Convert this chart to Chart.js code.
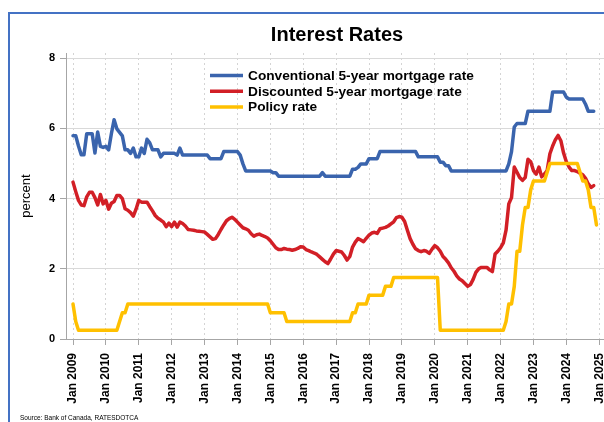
<!DOCTYPE html>
<html>
<head>
<meta charset="utf-8">
<title>Interest Rates</title>
<script src="https://cdn.jsdelivr.net/npm/chart.js@4.4.1/dist/chart.umd.min.js"></script>
<style>
    html, body { margin: 0; padding: 0; background: #fff; }
    #wrap { position: relative; width: 604px; height: 422px; overflow: hidden; }
    #frame {
        position: absolute; left: 8px; top: 12px; width: 700px; height: 500px;
        border-left: 2px solid #4472c4; border-top: 2px solid #4472c4;
    }
    canvas { position: absolute; left: 0; top: 0; }
</style>
</head>
<body>
<div id="wrap">
    <div id="frame"></div>
    <canvas id="rates" width="604" height="422" style="width:604px;height:422px"></canvas>
</div>
<script>
// Monthly series, first value = Jan 2009
const startYear = 2009;

const seriesNames = [
    'Conventional 5-year mortgage rate',
    'Discounted 5-year mortgage rate',
    'Policy rate'
];

// Jan 2009 .. Nov 2024
const conventional = [
    5.79, 5.79, 5.50, 5.25, 5.25, 5.85, 5.85, 5.85, 5.30, 5.90, 5.49, 5.46, // 2009
    5.49, 5.39, 5.85, 6.25, 5.99, 5.89, 5.79, 5.39, 5.39, 5.29, 5.44, 5.19, // 2010
    5.19, 5.44, 5.29, 5.69, 5.59, 5.39, 5.39, 5.39, 5.19, 5.29, 5.29, 5.29, // 2011
    5.29, 5.29, 5.24, 5.44, 5.24, 5.24, 5.24, 5.24, 5.24, 5.24, 5.24, 5.24, // 2012
    5.24, 5.24, 5.14, 5.14, 5.14, 5.14, 5.14, 5.34, 5.34, 5.34, 5.34, 5.34, // 2013
    5.34, 5.24, 4.99, 4.79, 4.79, 4.79, 4.79, 4.79, 4.79, 4.79, 4.79, 4.79, // 2014
    4.79, 4.74, 4.74, 4.64, 4.64, 4.64, 4.64, 4.64, 4.64, 4.64, 4.64, 4.64, // 2015
    4.64, 4.64, 4.64, 4.64, 4.64, 4.64, 4.64, 4.74, 4.64, 4.64, 4.64, 4.64, // 2016
    4.64, 4.64, 4.64, 4.64, 4.64, 4.64, 4.84, 4.84, 4.89, 4.99, 4.99, 4.99, // 2017
    5.14, 5.14, 5.14, 5.14, 5.34, 5.34, 5.34, 5.34, 5.34, 5.34, 5.34, 5.34, // 2018
    5.34, 5.34, 5.34, 5.34, 5.34, 5.34, 5.19, 5.19, 5.19, 5.19, 5.19, 5.19, // 2019
    5.19, 5.19, 5.04, 5.04, 4.94, 4.94, 4.79, 4.79, 4.79, 4.79, 4.79, 4.79, // 2020
    4.79, 4.79, 4.79, 4.79, 4.79, 4.79, 4.79, 4.79, 4.79, 4.79, 4.79, 4.79, // 2021
    4.79, 4.79, 4.79, 4.99, 5.34, 6.04, 6.14, 6.14, 6.14, 6.14, 6.49, 6.49, // 2022
    6.49, 6.49, 6.49, 6.49, 6.49, 6.49, 6.49, 7.04, 7.04, 7.04, 7.04, 7.04, // 2023
    6.89, 6.84, 6.84, 6.84, 6.84, 6.84, 6.84, 6.69, 6.49, 6.49, 6.49        // 2024
];

// Jan 2009 .. Nov 2024
const discounted = [
    4.47, 4.20, 3.95, 3.82, 3.80, 4.05, 4.18, 4.18, 4.03, 3.82, 4.12, 3.85, // 2009
    3.95, 3.70, 3.87, 3.92, 4.09, 4.09, 4.00, 3.71, 3.67, 3.60, 3.50, 3.70, // 2010
    3.95, 3.90, 3.90, 3.90, 3.77, 3.65, 3.52, 3.44, 3.39, 3.33, 3.20, 3.30, // 2011
    3.20, 3.33, 3.19, 3.33, 3.29, 3.22, 3.12, 3.11, 3.10, 3.08, 3.07, 3.06, // 2012
    3.05, 2.98, 2.91, 2.84, 2.86, 2.98, 3.12, 3.25, 3.37, 3.43, 3.47, 3.41, // 2013
    3.33, 3.25, 3.17, 3.14, 3.10, 3.00, 2.93, 2.97, 2.99, 2.95, 2.92, 2.88, // 2014
    2.80, 2.70, 2.60, 2.55, 2.55, 2.58, 2.56, 2.55, 2.53, 2.55, 2.58, 2.63, // 2015
    2.62, 2.55, 2.52, 2.48, 2.45, 2.41, 2.34, 2.27, 2.20, 2.15, 2.28, 2.42, // 2016
    2.52, 2.50, 2.48, 2.38, 2.25, 2.35, 2.62, 2.76, 2.86, 2.82, 2.77, 2.87, // 2017
    2.96, 3.02, 3.04, 3.01, 3.14, 3.16, 3.18, 3.22, 3.28, 3.34, 3.46, 3.49, // 2018
    3.47, 3.35, 3.10, 2.86, 2.70, 2.57, 2.52, 2.49, 2.52, 2.50, 2.44, 2.56, // 2019
    2.66, 2.60, 2.50, 2.35, 2.27, 2.17, 2.03, 1.93, 1.80, 1.71, 1.66, 1.58, // 2020
    1.50, 1.55, 1.70, 1.90, 2.00, 2.04, 2.04, 2.04, 1.97, 1.92, 2.42, 2.50, // 2021
    2.60, 2.74, 3.10, 3.85, 4.03, 4.90, 4.75, 4.60, 4.52, 4.60, 5.12, 5.05, // 2022
    4.80, 4.70, 4.90, 4.62, 4.70, 4.80, 5.28, 5.50, 5.68, 5.80, 5.65, 5.30, // 2023
    5.05, 4.90, 4.80, 4.80, 4.77, 4.72, 4.68, 4.58, 4.42, 4.32, 4.37        // 2024
];

// Jan 2009 .. Dec 2024
const policy = [
    1.00, 0.50, 0.25, 0.25, 0.25, 0.25, 0.25, 0.25, 0.25, 0.25, 0.25, 0.25, // 2009
    0.25, 0.25, 0.25, 0.25, 0.25, 0.50, 0.75, 0.75, 1.00, 1.00, 1.00, 1.00, // 2010
    1.00, 1.00, 1.00, 1.00, 1.00, 1.00, 1.00, 1.00, 1.00, 1.00, 1.00, 1.00, // 2011
    1.00, 1.00, 1.00, 1.00, 1.00, 1.00, 1.00, 1.00, 1.00, 1.00, 1.00, 1.00, // 2012
    1.00, 1.00, 1.00, 1.00, 1.00, 1.00, 1.00, 1.00, 1.00, 1.00, 1.00, 1.00, // 2013
    1.00, 1.00, 1.00, 1.00, 1.00, 1.00, 1.00, 1.00, 1.00, 1.00, 1.00, 1.00, // 2014
    0.75, 0.75, 0.75, 0.75, 0.75, 0.75, 0.50, 0.50, 0.50, 0.50, 0.50, 0.50, // 2015
    0.50, 0.50, 0.50, 0.50, 0.50, 0.50, 0.50, 0.50, 0.50, 0.50, 0.50, 0.50, // 2016
    0.50, 0.50, 0.50, 0.50, 0.50, 0.50, 0.75, 0.75, 1.00, 1.00, 1.00, 1.00, // 2017
    1.25, 1.25, 1.25, 1.25, 1.25, 1.25, 1.50, 1.50, 1.50, 1.75, 1.75, 1.75, // 2018
    1.75, 1.75, 1.75, 1.75, 1.75, 1.75, 1.75, 1.75, 1.75, 1.75, 1.75, 1.75, // 2019
    1.75, 1.75, 0.25, 0.25, 0.25, 0.25, 0.25, 0.25, 0.25, 0.25, 0.25, 0.25, // 2020
    0.25, 0.25, 0.25, 0.25, 0.25, 0.25, 0.25, 0.25, 0.25, 0.25, 0.25, 0.25, // 2021
    0.25, 0.25, 0.50, 1.00, 1.00, 1.50, 2.50, 2.50, 3.25, 3.75, 3.75, 4.25, // 2022
    4.50, 4.50, 4.50, 4.50, 4.50, 4.75, 5.00, 5.00, 5.00, 5.00, 5.00, 5.00, // 2023
    5.00, 5.00, 5.00, 5.00, 5.00, 4.75, 4.50, 4.50, 4.25, 3.75, 3.75, 3.25  // 2024
];

const yearTicks = [2009, 2010, 2011, 2012, 2013, 2014, 2015, 2016, 2017,
                   2018, 2019, 2020, 2021, 2022, 2023, 2024, 2025];
const valueTicks = [0, 2, 4, 6, 8];

const chartTitle = 'Interest Rates';
const axisTitle = 'percent';
const sourceText = 'Source: Bank of Canada, RATESDOTCA';

const FONT = '"Liberation Sans", Arial, sans-serif';
const colors = ['#3a64ad', '#d21f26', '#ffc000'];

// month index -> decimal year
function toPoints(values) {
    return values.map((v, i) => ({ x: startYear + i / 12, y: v }));
}

// title, legend and source note
const decorations = {
    id: 'decorations',
    afterDraw(chart) {
        const ctx = chart.ctx;
        ctx.save();
        ctx.fillStyle = '#000';

        ctx.font = 'bold 20px ' + FONT;
        ctx.textAlign = 'center';
        ctx.textBaseline = 'alphabetic';
        ctx.fillText(chartTitle, 337, 41);

        ctx.font = 'bold 13.7px ' + FONT;
        ctx.textAlign = 'left';
        ctx.textBaseline = 'middle';
        chart.data.datasets.forEach((ds, i) => {
            const y = 75.5 + i * 15.8;
            ctx.strokeStyle = ds.borderColor;
            ctx.lineWidth = 3.5;
            ctx.beginPath();
            ctx.moveTo(210, y);
            ctx.lineTo(243, y);
            ctx.stroke();
            ctx.fillText(ds.label, 248, y + 0.5);
        });

        ctx.font = '6.5px ' + FONT;
        ctx.textBaseline = 'alphabetic';
        ctx.fillText(sourceText, 20, 420);
        ctx.restore();
    }
};

const datasets = [conventional, discounted, policy].map((values, i) => ({
    label: seriesNames[i],
    data: toPoints(values),
    borderColor: colors[i],
    backgroundColor: colors[i],
    borderWidth: 3.5,
    pointRadius: 0,
    tension: 0,
    fill: false,
    borderJoinStyle: 'round',
    borderCapStyle: 'round',
    order: 3 - i
}));

new Chart(document.getElementById('rates').getContext('2d'), {
    type: 'line',
    data: { datasets: datasets },
    plugins: [decorations],
    options: {
        responsive: false,
        animation: false,
        layout: { padding: { left: 15, top: 53, right: 0, bottom: 13 } },
        plugins: {
            legend: { display: false },
            title: { display: false },
            tooltip: { enabled: false }
        },
        scales: {
            x: {
                type: 'linear',
                min: 2008.787,
                max: 2025.145,
                afterBuildTicks: scale => {
                    scale.ticks = yearTicks.map(v => ({ value: v }));
                },
                afterFit: scale => {
                    scale.height = 70;
                    scale.paddingLeft = 0;
                    scale.paddingRight = 0;
                },
                ticks: {
                    autoSkip: false,
                    minRotation: 90,
                    maxRotation: 90,
                    padding: 8,
                    color: '#000',
                    font: { family: FONT, size: 12, weight: 'bold' },
                    callback: v => 'Jan ' + v
                },
                grid: {
                    color: '#d4d4d4',
                    lineWidth: 1,
                    tickLength: 6,
                    tickColor: '#a6a6a6',
                    tickBorderDash: []
                },
                border: { display: true, color: '#a6a6a6', dash: [2, 3] }
            },
            y: {
                min: 0,
                max: 8.15,
                afterBuildTicks: scale => {
                    scale.ticks = valueTicks.map(v => ({ value: v }));
                },
                afterFit: scale => {
                    scale.width = 51;
                },
                ticks: {
                    padding: 5,
                    color: '#000',
                    font: { family: FONT, size: 11, weight: 'bold' }
                },
                grid: {
                    color: '#d9d9d9',
                    lineWidth: 1,
                    tickLength: 6,
                    tickColor: '#a6a6a6'
                },
                border: { display: true, color: '#a6a6a6' },
                title: {
                    display: true,
                    text: axisTitle,
                    color: '#000',
                    padding: { top: 4, bottom: 4 },
                    font: { family: FONT, size: 13 }
                }
            }
        }
    }
});
</script>
</body>
</html>
